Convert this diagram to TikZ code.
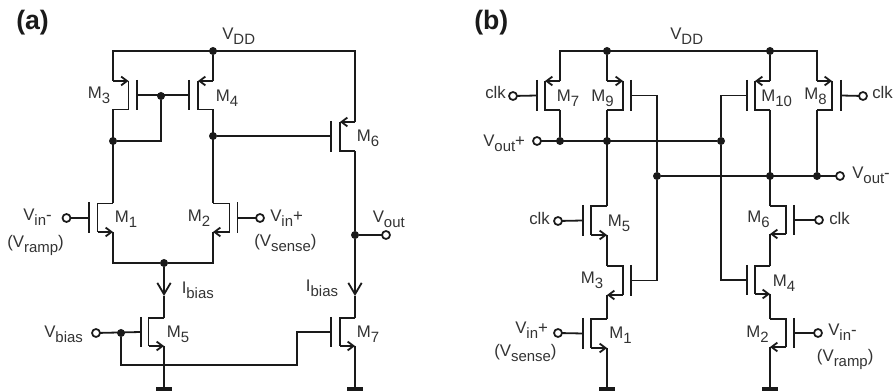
\documentclass[tikz,border=0pt]{standalone}
\usepackage{fontspec}
\setmainfont{Liberation Sans}
\usetikzlibrary{arrows.meta}
\definecolor{ink}{HTML}{1A1A1A}
\definecolor{txt}{HTML}{333333}
\newcommand{\lbl}[3][]{{\fontsize{12.6}{12}\selectfont #2\raisebox{-3.6pt}{\fontsize{11.2}{11}\selectfont #3}#1}}
\newcommand{\clk}{{\fontsize{12.6}{12}\selectfont clk}}
\newcommand{\pfet}[6]{%
  \coordinate (#1s) at (#2,#5); \coordinate (#1d) at (#2,#6);
  \coordinate (#1g) at (#4,{(#5+#6)/2});
  \draw[wire,-{Straight Barb[length=4.4pt,width=6.6pt]}] (#1s) -- (#3,#5);
  \draw[wire] (#3,#5) -- (#3,#6) -- (#1d);
  \draw[wire] (#4,#5-1) -- (#4,#6+1);}
\newcommand{\nfet}[6]{%
  \coordinate (#1d) at (#2,#5); \coordinate (#1s) at (#2,#6);
  \coordinate (#1g) at (#4,{(#5+#6)/2});
  \draw[wire] (#1d) -- (#3,#5) -- (#3,#6);
  \draw[wire,-{Straight Barb[length=4.4pt,width=6.6pt]}] (#3,#6) -- (#1s);
  \draw[wire] (#4,#5-1) -- (#4,#6+1);}
\tikzset{
  wire/.style={draw=ink,line width=1.35pt,line join=miter},
  jn/.style={circle,fill=ink,inner sep=0pt,minimum size=6pt,outer sep=0pt},
  term/.style={circle,draw=ink,fill=white,line width=1.3pt,inner sep=0pt,minimum size=6pt,outer sep=0pt},
  tag/.style={anchor=base west,inner sep=0pt,text=txt},
  panel/.style={anchor=base west,inner sep=0pt,text=ink,font=\fontsize{20}{20}\selectfont\bfseries},
  gndbar/.style={fill=ink,draw=none,minimum width=12pt,minimum height=3pt,inner sep=0pt,rectangle},
  current/.style={wire,-{Straight Barb[length=8.5pt,width=10pt]}}
}
\begin{document}
\begin{tikzpicture}[x=0.75pt,y=-0.75pt]
\useasboundingbox (0,0) rectangle (896,391);
\clip (0,0) rectangle (896,391);
% ---------- panel (a)
\node[jn] (avdd) at (213,51) {};
\coordinate (arl) at (113,51);
\coordinate (arr) at (355,51);
\pfet{am3}{113}{128.5}{137}{81}{109.5}
\pfet{am4}{213}{198}{189}{81}{109.5}
\pfet{am6}{355}{340}{331}{122}{151}
\nfet{am1}{113}{97.5}{89}{203.5}{232}
\nfet{am2}{213}{229.5}{237.5}{203.5}{232}
\nfet{am5}{164}{148.5}{141}{318}{346}
\nfet{am7}{355}{340}{331}{318}{346}
\node[jn] (aj1) at (113,141) {};
\node[jn] (aj2) at (161,96) {};
\node[jn] (aj3) at (213,136) {};
\node[jn] (aj4) at (164,263) {};
\node[jn] (aj5) at (355,235) {};
\node[jn] (aj6) at (121,333) {};
\node[term] (at1) at (66.5,218) {};
\node[term] (at2) at (260,218) {};
\node[term] (at3) at (386,235) {};
\node[term] (at4) at (96,333) {};
\node[gndbar] (ag1) at (164,389) {};
\node[gndbar] (ag2) at (355,389) {};
\coordinate (abend) at (297,365);
\coordinate (ac1) at (164,296);
\coordinate (ac2) at (355,296);
\draw[wire] (am3s) -- (arl) -- (arr) -- (am6s);
\draw[wire] (avdd) -- (am4s);
\draw[wire] (am3g) -- (am4g);
\draw[wire] (am3d) -- (am1d);
\draw[wire] (aj1) -| (aj2);
\draw[wire] (am4d) -- (am2d);
\draw[wire] (aj3) -- (aj3 -| am6g);
\draw[wire] (am6d) -- (aj5);
\draw[current] (aj5) -- (ac2);
\draw[wire] (ac2) -- (am7d);
\draw[wire] (aj5) -- (at3);
\draw[wire] (at1) -- (at1 -| am1g);
\draw[wire] (at2) -- (at2 -| am2g);
\draw[wire] (am1s) |- (aj4);
\draw[wire] (am2s) |- (aj4);
\draw[current] (aj4) -- (ac1);
\draw[wire] (ac1) -- (am5d);
\draw[wire] (am5s) -- (ag1.north);
\draw[wire] (am7s) -- (ag2.north);
\draw[wire] (at4) -- (am5g);
\draw[wire] (aj6) |- (abend) |- (am7g);
\node[panel] (lpa) at (16,30) {(a)};
\node[tag] (la1) at (222,40) {\lbl{V}{DD}};
\node[tag] (la2) at (87.5,99) {\lbl{M}{3}};
\node[tag] (la3) at (215.5,102) {\lbl{M}{4}};
\node[tag] (la4) at (356.5,142) {\lbl{M}{6}};
\node[tag] (la5) at (23,221) {\lbl[-]{V}{in}};
\node[tag] (la6) at (7,248) {\lbl[)]{(V}{ramp}};
\node[tag] (la7) at (114.5,223) {\lbl{M}{1}};
\node[tag] (la8) at (187.5,222) {\lbl{M}{2}};
\node[tag] (la9) at (270,222) {\lbl[+]{V}{in}};
\node[tag] (la10) at (254,247) {\lbl[)]{(V}{sense}};
\node[tag] (la11) at (372.5,223) {\lbl{V}{out}};
\node[tag] (la12) at (181.5,294) {\lbl{I}{bias}};
\node[tag] (la13) at (305.7,292) {\lbl{I}{bias}};
\node[tag] (la14) at (44,337.7) {\lbl{V}{bias}};
\node[tag] (la15) at (166.7,338) {\lbl{M}{5}};
\node[tag] (la16) at (356.7,338) {\lbl{M}{7}};
% ---------- panel (b)
\node[jn] (bv1) at (607,51) {};
\node[jn] (bv2) at (770,51) {};
\coordinate (brl) at (560,51);
\coordinate (brr) at (817,51);
\pfet{bm7}{560}{545}{537}{81}{110}
\pfet{bm9}{607}{623}{631}{81}{110}
\pfet{bm10}{770}{755}{747}{81}{110}
\pfet{bm8}{817}{832}{841}{81}{110}
\nfet{bm5}{607}{591}{583}{206}{235}
\nfet{bm3}{607}{623}{631}{266}{295}
\nfet{bm1}{607}{591}{583}{319}{348}
\nfet{bm6}{770}{786}{794}{206}{234}
\nfet{bm4}{770}{755}{747}{266}{294}
\nfet{bm2}{770}{786}{794}{319}{347}
\node[jn] (bj1) at (560,141) {};
\node[jn] (bj2) at (607,141) {};
\node[jn] (bj3) at (721,141) {};
\node[jn] (bj4) at (657,176) {};
\node[jn] (bj5) at (770,176) {};
\node[jn] (bj6) at (817,176) {};
\node[term] (bt1) at (513,96) {};
\node[term] (bt2) at (863,96) {};
\node[term] (bt3) at (537,141) {};
\node[term] (bt4) at (840,176) {};
\node[term] (bt5) at (558,221) {};
\node[term] (bt6) at (819,220) {};
\node[term] (bt7) at (558,333) {};
\node[term] (bt8) at (818,333) {};
\node[gndbar] (bg1) at (607,389) {};
\node[gndbar] (bg2) at (770,389) {};
\draw[wire] (bm7s) -- (brl) -- (brr) -- (bm8s);
\draw[wire] (bv1) -- (bm9s);
\draw[wire] (bv2) -- (bm10s);
\draw[wire] (bt1) -- (bm7g);
\draw[wire] (bt2) -- (bm8g);
\draw[wire] (bm7d) -- (bj1);
\draw[wire] (bm9d) -- (bm5d);
\draw[wire] (bm10d) -- (bm6d);
\draw[wire] (bm8d) -- (bj6);
\draw[wire] (bt3) -- (bj3);
\draw[wire] (bj4) -- (bt4);
\draw[wire] (bm9g) -| (bj4);
\draw[wire] (bj4) |- (bm3g);
\draw[wire] (bm10g) -| (bj3);
\draw[wire] (bj3) |- (bm4g);
\draw[wire] (bt5) -- (bm5g);
\draw[wire] (bt6) -- (bm6g);
\draw[wire] (bt7) -- (bm1g);
\draw[wire] (bt8) -- (bm2g);
\draw[wire] (bm5s) -- (bm3d);
\draw[wire] (bm3s) -- (bm1d);
\draw[wire] (bm6s) -- (bm4d);
\draw[wire] (bm4s) -- (bm2d);
\draw[wire] (bm1s) -- (bg1.north);
\draw[wire] (bm2s) -- (bg2.north);
\node[panel] (lpb) at (474,30) {(b)};
\node[tag] (lb1) at (670,40) {\lbl{V}{DD}};
\node[tag] (lb2) at (485,99) {\clk};
\node[tag] (lb3) at (556.7,101.7) {\lbl{M}{7}};
\node[tag] (lb4) at (591,101.7) {\lbl{M}{9}};
\node[tag] (lb5) at (761,101.7) {\lbl{M}{10}};
\node[tag] (lb6) at (804,100) {\lbl{M}{8}};
\node[tag] (lb7) at (872,99) {\clk};
\node[tag] (lb8) at (483,146.7) {\lbl[+]{V}{out}};
\node[tag] (lb9) at (852,179) {\lbl[-]{V}{out}};
\node[tag] (lb10) at (529,225) {\clk};
\node[tag] (lb11) at (607.7,227) {\lbl{M}{5}};
\node[tag] (lb12) at (747,223) {\lbl{M}{6}};
\node[tag] (lb13) at (829,225) {\clk};
\node[tag] (lb14) at (580.7,284) {\lbl{M}{3}};
\node[tag] (lb15) at (772.7,286.7) {\lbl{M}{4}};
\node[tag] (lb16) at (515,334) {\lbl[+]{V}{in}};
\node[tag] (lb17) at (494,356.7) {\lbl[)]{(V}{sense}};
\node[tag] (lb18) at (609,339) {\lbl{M}{1}};
\node[tag] (lb19) at (746,337.7) {\lbl{M}{2}};
\node[tag] (lb20) at (828,335.7) {\lbl[-]{V}{in}};
\node[tag] (lb21) at (816.7,361.7) {\lbl[)]{(V}{ramp}};
\end{tikzpicture}
\end{document}
